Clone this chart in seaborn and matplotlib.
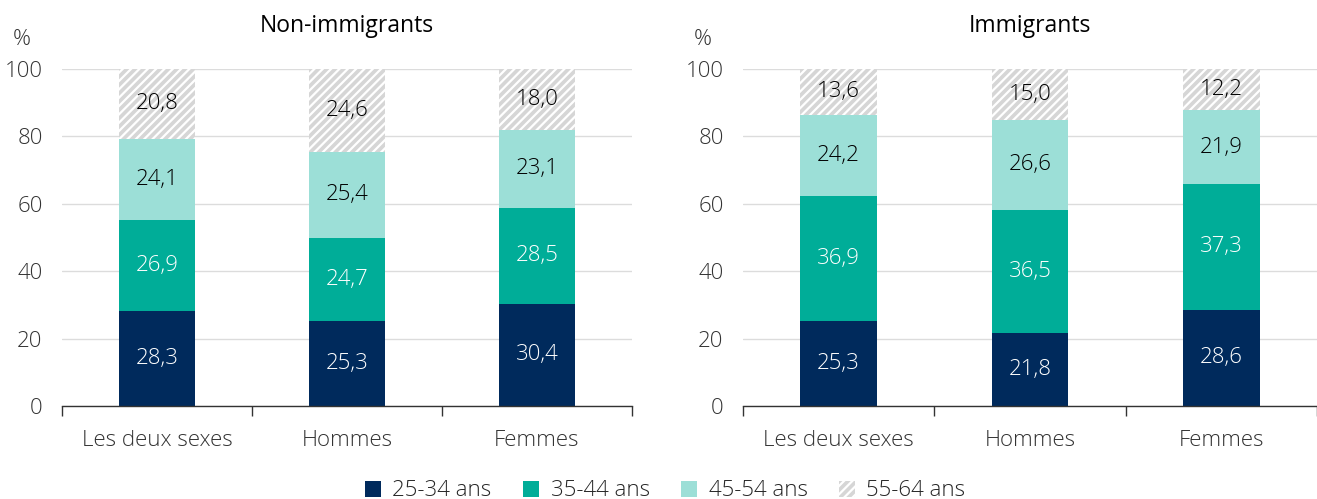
import numpy as np
import pandas as pd
import matplotlib
matplotlib.use("Agg")
import matplotlib.pyplot as plt
import seaborn as sns
from matplotlib.patches import Patch

categories = ["Les deux sexes", "Hommes", "Femmes"]
age_groups = ["25-34 ans", "35-44 ans", "45-54 ans", "55-64 ans"]
panels = ["Non-immigrants", "Immigrants"]

non_imm_25_34 = [28.3, 25.3, 30.4]
non_imm_35_44 = [26.9, 24.7, 28.5]
non_imm_45_54 = [24.1, 25.4, 23.1]
non_imm_55_64 = [20.8, 24.6, 18.0]

imm_25_34 = [25.3, 21.8, 28.6]
imm_35_44 = [36.9, 36.5, 37.3]
imm_45_54 = [24.2, 26.6, 21.9]
imm_55_64 = [13.6, 15.0, 12.2]

yticks = [0, 20, 40, 60, 80, 100]

colors = ["#002a5c", "#00ad98", "#9cdfd7", "#d6d6d6"]
text_colors = ["white", "white", "black", "black"]

sns.set_theme(style="white")
plt.rcParams["font.family"] = ["Open Sans", "DejaVu Sans"]
plt.rcParams["font.weight"] = "light"
plt.rcParams["hatch.linewidth"] = 1.6
plt.rcParams["hatch.color"] = "white"

FS = 16

fig = plt.figure(figsize=(13.17, 4.99), dpi=100)
ax1 = fig.add_axes([62 / 1317, 1 - 406 / 499, 570 / 1317, 337 / 499])
ax2 = fig.add_axes([743 / 1317, 1 - 406 / 499, 574 / 1317, 337 / 499])

panel_data = [
    [non_imm_25_34, non_imm_35_44, non_imm_45_54, non_imm_55_64],
    [imm_25_34, imm_35_44, imm_45_54, imm_55_64],
]

for ax, title, series in zip([ax1, ax2], panels, panel_data):
    arr = np.array(series)
    cum = np.cumsum(arr, axis=0)
    # draw from top (largest cumulative) down
    for i in range(3, -1, -1):
        df = pd.DataFrame({"cat": categories, "val": np.minimum(cum[i], 100)})
        kw = dict(hatch="////", edgecolor="white", linewidth=0) if i == 3 else dict(linewidth=0)
        sns.barplot(data=df, x="cat", y="val", color=colors[i], saturation=1,
                    width=0.4, ax=ax, **kw)
    for i in range(4):
        bottoms = cum[i] - arr[i]
        for j in range(3):
            ax.text(j, bottoms[j] + arr[i][j] / 2, f"{arr[i][j]:.1f}".replace(".", ","),
                    ha="center", va="center", color=text_colors[i], fontsize=FS)
    ax.set_xlim(-0.5, 2.5)
    ax.set_ylim(0, 100)
    ax.set_yticks(yticks)
    ax.set_yticklabels([str(t) for t in yticks], fontsize=FS, color="#333333")
    ax.set_xlabel("")
    ax.set_ylabel("")
    ax.set_xticks(range(3))
    ax.set_xticklabels(categories, fontsize=FS, color="#333333")
    ax.set_xticks([-0.5, 0.5, 1.5, 2.5], minor=True)
    ax.tick_params(axis="x", which="major", bottom=False, length=0, pad=17)
    ax.tick_params(axis="x", which="minor", bottom=True, length=7, width=1,
                   color="#333333", direction="out")
    ax.tick_params(axis="y", length=0, pad=14)
    ax.yaxis.grid(True, color="#dcdcdc", linewidth=1)
    ax.set_axisbelow(True)
    for s in ["top", "right", "left"]:
        ax.spines[s].set_visible(False)
    ax.spines["bottom"].set_color("#333333")
    ax.spines["bottom"].set_linewidth(1)
    ax.set_title(title, fontsize=16.5, pad=27, color="black")
    ax.text(-0.07, 1.055, "%", transform=ax.transAxes, fontsize=FS, ha="center", va="bottom",
            color="#333333")

handles = []
for i in range(4):
    if i == 3:
        handles.append(Patch(facecolor=colors[i], hatch="////", edgecolor="white", linewidth=0, label=age_groups[i]))
    else:
        handles.append(Patch(facecolor=colors[i], linewidth=0, label=age_groups[i]))
fig.legend(handles=handles, loc="lower center", bbox_to_anchor=(0.505, -0.045), ncol=4,
           frameon=False, fontsize=FS, handlelength=0.75, handleheight=0.75,
           columnspacing=1.4, handletextpad=0.5)

fig.savefig("out.png", dpi=100)
